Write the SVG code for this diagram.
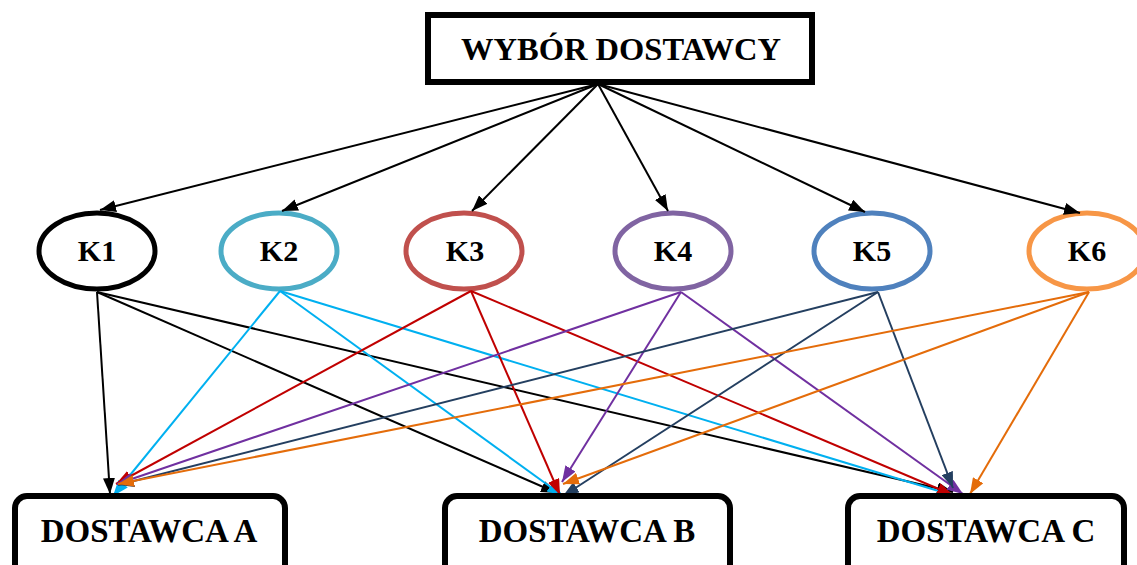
<svg xmlns="http://www.w3.org/2000/svg" width="1137" height="565" viewBox="0 0 1137 565">
<style>
  .lbl { font-family: "Liberation Serif", "Times New Roman", serif; font-weight: bold; fill: #000; text-anchor: middle; }
  .box { fill: #fff; stroke: #000; stroke-width: 6; }
  .ell { fill: #fff; stroke-width: 5; }
  .ln { fill: none; stroke-width: 2; }
</style>
<defs>
  <marker id="mk" viewBox="0 0 16 12" refX="16" refY="6" markerWidth="16" markerHeight="12" markerUnits="userSpaceOnUse" orient="auto"><path d="M0,0 L16,6 L0,12 z" fill="#000"/></marker>
  <marker id="mc" viewBox="0 0 16 12" refX="16" refY="6" markerWidth="16" markerHeight="12" markerUnits="userSpaceOnUse" orient="auto"><path d="M0,0 L16,6 L0,12 z" fill="#00B0F0"/></marker>
  <marker id="mr" viewBox="0 0 16 12" refX="16" refY="6" markerWidth="16" markerHeight="12" markerUnits="userSpaceOnUse" orient="auto"><path d="M0,0 L16,6 L0,12 z" fill="#C00000"/></marker>
  <marker id="mp" viewBox="0 0 16 12" refX="16" refY="6" markerWidth="16" markerHeight="12" markerUnits="userSpaceOnUse" orient="auto"><path d="M0,0 L16,6 L0,12 z" fill="#7030A0"/></marker>
  <marker id="md" viewBox="0 0 16 12" refX="16" refY="6" markerWidth="16" markerHeight="12" markerUnits="userSpaceOnUse" orient="auto"><path d="M0,0 L16,6 L0,12 z" fill="#243F60"/></marker>
  <marker id="mo" viewBox="0 0 16 12" refX="16" refY="6" markerWidth="16" markerHeight="12" markerUnits="userSpaceOnUse" orient="auto"><path d="M0,0 L16,6 L0,12 z" fill="#E46C0A"/></marker>
</defs>
<rect width="1137" height="565" fill="#fff"/>

<g id="title">
  <rect class="box" x="428" y="15" width="384" height="67"/>
  <text class="lbl" x="621" y="60" font-size="32.5">WYBÓR DOSTAWCY</text>
</g>

<g id="k1"><ellipse class="ell" cx="97" cy="251" rx="58" ry="38" stroke="#000" stroke-width="6"/><text class="lbl" x="97" y="261" font-size="30">K1</text></g>
<g id="k2"><ellipse class="ell" cx="279" cy="251" rx="58" ry="38" stroke="#4BACC6"/><text class="lbl" x="279" y="261" font-size="30">K2</text></g>
<g id="k3"><ellipse class="ell" cx="464" cy="251" rx="58" ry="38" stroke="#C0504D"/><text class="lbl" x="465" y="261" font-size="30">K3</text></g>
<g id="k4"><ellipse class="ell" cx="673" cy="251" rx="58" ry="38" stroke="#8064A2"/><text class="lbl" x="673" y="261" font-size="30">K4</text></g>
<g id="k5"><ellipse class="ell" cx="872" cy="251" rx="58" ry="38" stroke="#4F81BD"/><text class="lbl" x="872" y="261" font-size="30">K5</text></g>
<g id="k6"><ellipse class="ell" cx="1087" cy="251" rx="58" ry="38" stroke="#F79646"/><text class="lbl" x="1087" y="261" font-size="30">K6</text></g>

<g id="connectors">
  <g class="ln" stroke="#000" marker-end="url(#mk)">
    <line x1="598" y1="84" x2="100" y2="210"/>
    <line x1="598" y1="84" x2="282" y2="211"/>
    <line x1="598" y1="84" x2="472" y2="211"/>
    <line x1="598" y1="84" x2="668" y2="211"/>
    <line x1="598" y1="84" x2="865" y2="212"/>
    <line x1="598" y1="84" x2="1080" y2="213"/>
    <line x1="97" y1="292" x2="110" y2="494"/>
    <line x1="97" y1="292" x2="557" y2="493"/>
    <line x1="97" y1="292" x2="953" y2="492"/>
  </g>
  <g class="ln" stroke="#00B0F0" marker-end="url(#mc)">
    <line x1="280" y1="291" x2="113" y2="496"/>
    <line x1="280" y1="291" x2="563" y2="496"/>
    <line x1="280" y1="291" x2="955" y2="496"/>
  </g>
  <g class="ln" stroke="#C00000" marker-end="url(#mr)">
    <line x1="471" y1="291" x2="116" y2="484"/>
    <line x1="471" y1="291" x2="560" y2="495"/>
    <line x1="471" y1="291" x2="953" y2="495"/>
  </g>
  <g class="ln" stroke="#7030A0" marker-end="url(#mp)">
    <line x1="681" y1="292" x2="117" y2="484"/>
    <line x1="681" y1="292" x2="562" y2="482"/>
    <line x1="681" y1="292" x2="963" y2="494"/>
  </g>
  <g class="ln" stroke="#243F60" marker-end="url(#md)">
    <line x1="878" y1="292" x2="118" y2="485"/>
    <line x1="878" y1="292" x2="563" y2="496"/>
    <line x1="878" y1="292" x2="953" y2="488"/>
  </g>
  <g class="ln" stroke="#E46C0A" marker-end="url(#mo)">
    <line x1="1089" y1="292" x2="118" y2="484"/>
    <line x1="1089" y1="292" x2="563" y2="484"/>
    <line x1="1089" y1="292" x2="970" y2="494"/>
  </g>
</g>

<g id="dostawcaA">
  <rect class="box" x="15" y="496" width="270" height="90" rx="12"/>
  <text class="lbl" x="149" y="542" font-size="33">DOSTAWCA A</text>
</g>
<g id="dostawcaB">
  <rect class="box" x="445" y="496" width="285" height="90" rx="12"/>
  <text class="lbl" x="587" y="542" font-size="33">DOSTAWCA B</text>
</g>
<g id="dostawcaC">
  <rect class="box" x="848" y="496" width="276" height="90" rx="12"/>
  <text class="lbl" x="986" y="542" font-size="33">DOSTAWCA C</text>
</g>
</svg>
